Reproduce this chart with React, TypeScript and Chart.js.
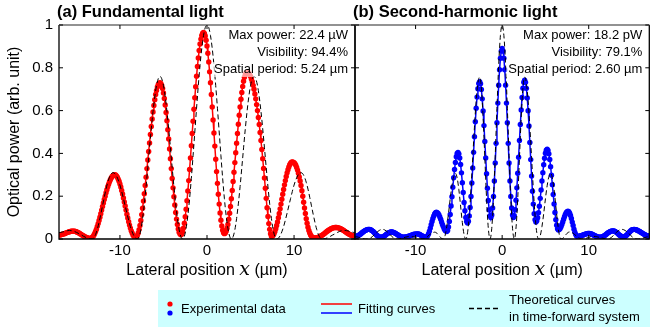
import React, { useEffect, useRef } from "react";
import { Chart, registerables } from "chart.js";

Chart.register(...registerables);

// ---------- data ----------
const X_MIN = -17;
const X_MAX = 17;
const X_TICKS = [-10, 0, 10];
const Y_TICKS = [0, 0.2, 0.4, 0.6, 0.8, 1];

// (a) Fundamental light – experimental data (start -17 µm, step 0.1 µm)
const FUND_EXP_START = -17;
const FUND_EXP_STEP = 0.1;
const FUND_EXP = [
  0.019, 0.019, 0.02, 0.021, 0.022, 0.023, 0.025, 0.026, 0.028, 0.03, 0.031, 0.033, 0.034, 0.035, 0.036, 0.037, 0.037,
  0.037, 0.036, 0.035, 0.034, 0.032, 0.03, 0.028, 0.025, 0.023, 0.02, 0.017, 0.015, 0.012, 0.01, 0.008, 0.006, 0.005, 0.004, 0.003, 0.003,
  0.004, 0.007, 0.011, 0.018, 0.026, 0.035, 0.046, 0.059, 0.072, 0.087, 0.102, 0.118, 0.135, 0.152, 0.168, 0.185, 0.2, 0.216, 0.23, 0.244, 0.256, 0.268, 0.277, 0.285, 0.292, 0.296, 0.299, 0.3,
  0.299, 0.295, 0.289, 0.28, 0.27, 0.257, 0.243, 0.227, 0.21, 0.192, 0.173, 0.154, 0.135, 0.116, 0.098, 0.081, 0.065, 0.051, 0.038, 0.028, 0.019, 0.013, 0.009, 0.008,
  0.01, 0.017, 0.028, 0.044, 0.063, 0.087, 0.114, 0.144, 0.177, 0.212, 0.25, 0.289, 0.329, 0.369, 0.409, 0.449, 0.488, 0.526, 0.561, 0.594, 0.624, 0.651, 0.675, 0.694, 0.71, 0.721, 0.728, 0.73,
  0.727, 0.718, 0.703, 0.682, 0.657, 0.626, 0.591, 0.553, 0.511, 0.467, 0.421, 0.375, 0.329, 0.283, 0.239, 0.198, 0.159, 0.124, 0.093, 0.068, 0.047, 0.032, 0.023, 0.02,
  0.023, 0.034, 0.051, 0.074, 0.104, 0.139, 0.179, 0.224, 0.273, 0.325, 0.379, 0.436, 0.493, 0.55, 0.606, 0.66, 0.712, 0.761, 0.806, 0.846, 0.881, 0.911, 0.934, 0.951, 0.962, 0.965,
  0.961, 0.949, 0.929, 0.902, 0.868, 0.827, 0.781, 0.73, 0.675, 0.617, 0.556, 0.495, 0.434, 0.373, 0.315, 0.26, 0.209, 0.163, 0.122, 0.088, 0.061, 0.041, 0.029, 0.025,
  0.028, 0.036, 0.05, 0.068, 0.092, 0.12, 0.152, 0.188, 0.227, 0.269, 0.312, 0.357, 0.403, 0.448, 0.493, 0.536, 0.578, 0.617, 0.653, 0.685, 0.713, 0.737, 0.756, 0.769, 0.777, 0.78,
  0.779, 0.775, 0.768, 0.76, 0.748, 0.735, 0.718, 0.7, 0.678, 0.655, 0.628, 0.6, 0.568, 0.535, 0.498, 0.46, 0.418, 0.375, 0.33, 0.285, 0.237, 0.19, 0.146, 0.105, 0.072, 0.045, 0.025, 0.012,
  0.013, 0.018, 0.025, 0.035, 0.048, 0.063, 0.08, 0.099, 0.119, 0.141, 0.163, 0.186, 0.209, 0.231, 0.253, 0.273, 0.292, 0.309, 0.324, 0.337, 0.347, 0.354, 0.359, 0.36,
  0.359, 0.357, 0.352, 0.345, 0.334, 0.322, 0.307, 0.29, 0.271, 0.25, 0.226, 0.2, 0.172, 0.145, 0.119, 0.095, 0.074, 0.055, 0.04, 0.028, 0.019, 0.012, 0.008, 0.006, 0.005, 0.005,
  0.005, 0.006, 0.007, 0.008, 0.01, 0.012, 0.015, 0.017, 0.02, 0.023, 0.026, 0.03, 0.033, 0.036, 0.039, 0.042, 0.044, 0.047, 0.049, 0.051, 0.052, 0.053, 0.054, 0.054,
  0.054, 0.053, 0.052, 0.051, 0.049, 0.047, 0.045, 0.042, 0.04, 0.037, 0.034, 0.031, 0.028, 0.026, 0.023, 0.021, 0.019, 0.017, 0.016, 0.015, 0.014, 0.014,
];

// (a) theoretical curve in time-forward system (start -17 µm, step 0.2 µm)
const FUND_THEORY_START = -17;
const FUND_THEORY_STEP = 0.2;
const FUND_THEORY = [
  0.03, 0.031, 0.033, 0.035, 0.038, 0.039, 0.04,
  0.039, 0.038, 0.035, 0.031, 0.027, 0.022, 0.018, 0.013, 0.009, 0.005, 0.002, 0.001, 0.0,
  0.005, 0.021, 0.045, 0.078, 0.115, 0.155, 0.195, 0.233, 0.265, 0.289, 0.305, 0.31,
  0.306, 0.295, 0.276, 0.252, 0.222, 0.189, 0.155, 0.121, 0.088, 0.058, 0.034, 0.015, 0.004, 0.0,
  0.011, 0.043, 0.096, 0.164, 0.245, 0.334, 0.426, 0.515, 0.596, 0.664, 0.717, 0.749, 0.76,
  0.749, 0.717, 0.664, 0.596, 0.515, 0.426, 0.334, 0.245, 0.164, 0.096, 0.043, 0.011, 0.0,
  0.013, 0.05, 0.109, 0.188, 0.283, 0.389, 0.5, 0.611, 0.717, 0.812, 0.891, 0.951, 0.988, 1.0,
  0.988, 0.951, 0.891, 0.812, 0.717, 0.611, 0.5, 0.389, 0.283, 0.188, 0.109, 0.05, 0.013, 0.0,
  0.011, 0.043, 0.096, 0.164, 0.245, 0.334, 0.426, 0.515, 0.596, 0.664, 0.717, 0.749, 0.76,
  0.749, 0.717, 0.664, 0.596, 0.515, 0.426, 0.334, 0.245, 0.164, 0.096, 0.043, 0.011, 0.0,
  0.004, 0.015, 0.034, 0.058, 0.088, 0.121, 0.155, 0.189, 0.222, 0.252, 0.276, 0.295, 0.306, 0.31,
  0.305, 0.289, 0.265, 0.233, 0.195, 0.155, 0.115, 0.078, 0.045, 0.021, 0.005, 0.0,
  0.001, 0.002, 0.005, 0.009, 0.013, 0.018, 0.022, 0.027, 0.031, 0.035, 0.038, 0.039, 0.04,
  0.039, 0.038, 0.035, 0.033, 0.031, 0.03,
];

// (b) Second-harmonic light – experimental data (start -17 µm, step 0.1 µm)
const SH_EXP_START = -17;
const SH_EXP_STEP = 0.1;
const SH_EXP = [
  0.012, 0.012, 0.013, 0.015, 0.017, 0.019, 0.022, 0.025, 0.029, 0.032, 0.035, 0.038, 0.04, 0.042, 0.044, 0.045, 0.045,
  0.045, 0.043, 0.041, 0.038, 0.035, 0.031, 0.027, 0.022, 0.018, 0.015, 0.012, 0.01, 0.008, 0.008,
  0.008, 0.01, 0.012, 0.014, 0.017, 0.021, 0.024, 0.027, 0.029, 0.031, 0.033, 0.033,
  0.033, 0.032, 0.03, 0.028, 0.026, 0.023, 0.021, 0.018, 0.015, 0.013, 0.011, 0.009, 0.008, 0.008,
  0.008, 0.009, 0.009, 0.01, 0.012, 0.013, 0.014, 0.016, 0.018, 0.019, 0.02, 0.022, 0.023, 0.023, 0.024, 0.024,
  0.024, 0.022, 0.021, 0.018, 0.016, 0.014, 0.011, 0.01, 0.008, 0.008,
  0.01, 0.016, 0.025, 0.037, 0.051, 0.067, 0.082, 0.096, 0.108, 0.117, 0.123, 0.125,
  0.123, 0.119, 0.112, 0.103, 0.092, 0.08, 0.068, 0.058, 0.048, 0.041, 0.037, 0.035,
  0.04, 0.056, 0.082, 0.115, 0.154, 0.198, 0.242, 0.286, 0.325, 0.358, 0.384, 0.4, 0.405,
  0.398, 0.379, 0.348, 0.309, 0.263, 0.217, 0.171, 0.132, 0.101, 0.082, 0.075,
  0.083, 0.108, 0.147, 0.199, 0.262, 0.332, 0.405, 0.478, 0.548, 0.611, 0.663, 0.702, 0.727, 0.735,
  0.726, 0.699, 0.655, 0.598, 0.53, 0.456, 0.379, 0.305, 0.237, 0.18, 0.136, 0.109, 0.1,
  0.112, 0.145, 0.199, 0.271, 0.355, 0.447, 0.543, 0.635, 0.719, 0.791, 0.845, 0.878, 0.89,
  0.878, 0.845, 0.791, 0.719, 0.635, 0.543, 0.447, 0.355, 0.271, 0.199, 0.145, 0.112, 0.1,
  0.109, 0.137, 0.181, 0.239, 0.307, 0.382, 0.46, 0.535, 0.603, 0.661, 0.705, 0.733, 0.742,
  0.732, 0.704, 0.659, 0.599, 0.528, 0.451, 0.371, 0.294, 0.223, 0.163, 0.118, 0.09, 0.08,
  0.085, 0.099, 0.123, 0.153, 0.19, 0.229, 0.271, 0.31, 0.347, 0.377, 0.401, 0.415, 0.42,
  0.414, 0.398, 0.372, 0.338, 0.298, 0.254, 0.208, 0.164, 0.124, 0.09, 0.064, 0.048, 0.042,
  0.044, 0.049, 0.057, 0.068, 0.08, 0.092, 0.104, 0.115, 0.123, 0.128, 0.13,
  0.128, 0.121, 0.11, 0.096, 0.079, 0.063, 0.046, 0.032, 0.021, 0.014, 0.012,
  0.012, 0.013, 0.014, 0.015, 0.017, 0.018, 0.02, 0.021, 0.023, 0.024, 0.025, 0.026, 0.026,
  0.026, 0.025, 0.024, 0.022, 0.02, 0.018, 0.016, 0.014, 0.012, 0.01, 0.009, 0.008, 0.008,
  0.008, 0.009, 0.011, 0.013, 0.016, 0.018, 0.021, 0.025, 0.028, 0.031, 0.033, 0.035, 0.037, 0.038, 0.038,
  0.038, 0.036, 0.034, 0.031, 0.028, 0.024, 0.02, 0.017, 0.014, 0.012, 0.01, 0.01,
  0.011, 0.012, 0.015, 0.019, 0.023, 0.028, 0.032, 0.036, 0.04, 0.043, 0.044, 0.045,
  0.045, 0.044, 0.043, 0.041, 0.039, 0.037, 0.035, 0.032, 0.03, 0.027, 0.024, 0.022, 0.02, 0.018, 0.016, 0.015, 0.014, 0.014,
];

// (b) theoretical curve in time-forward system (start -17 µm, step 0.2 µm)
const SH_THEORY_START = -17;
const SH_THEORY_STEP = 0.2;
const SH_THEORY = [
  0.01, 0.01, 0.008, 0.006, 0.004, 0.002, 0.0, 0.0,
  0.001, 0.005, 0.011, 0.019, 0.026, 0.034, 0.04, 0.044, 0.045,
  0.043, 0.038, 0.031, 0.023, 0.014, 0.007, 0.002, 0.0,
  0.0, 0.002, 0.004, 0.006, 0.008, 0.01, 0.012, 0.012,
  0.011, 0.01, 0.007, 0.005, 0.002, 0.001, 0.0,
  0.002, 0.006, 0.012, 0.02, 0.026, 0.03, 0.032,
  0.029, 0.021, 0.011, 0.003, 0.0,
  0.015, 0.058, 0.119, 0.188, 0.249, 0.292, 0.307,
  0.286, 0.23, 0.154, 0.077, 0.021, 0.0,
  0.029, 0.111, 0.234, 0.379, 0.523, 0.646, 0.728, 0.757,
  0.706, 0.568, 0.379, 0.189, 0.051, 0.0,
  0.05, 0.188, 0.389, 0.611, 0.812, 0.951, 1.0,
  0.951, 0.812, 0.611, 0.389, 0.188, 0.05, 0.0,
  0.051, 0.189, 0.379, 0.568, 0.706, 0.757,
  0.728, 0.646, 0.523, 0.379, 0.234, 0.111, 0.029, 0.0,
  0.015, 0.058, 0.119, 0.188, 0.249, 0.292, 0.307,
  0.286, 0.23, 0.154, 0.077, 0.021, 0.0,
  0.003, 0.011, 0.022, 0.03, 0.033,
  0.031, 0.027, 0.02, 0.013, 0.006, 0.002, 0.0,
  0.001, 0.002, 0.005, 0.007, 0.01, 0.011, 0.012,
  0.012, 0.01, 0.008, 0.006, 0.004, 0.002, 0.0, 0.0,
  0.002, 0.007, 0.014, 0.023, 0.031, 0.038, 0.043, 0.045,
  0.044, 0.04, 0.034, 0.026, 0.019, 0.011, 0.005, 0.001, 0.0,
  0.0, 0.002, 0.004, 0.006, 0.008, 0.01, 0.01,
];

const FUND_TITLE = "(a) Fundamental light";
const SH_TITLE = "(b) Second-harmonic light";
const FUND_NOTES = ["Max power: 22.4 µW", "Visibility: 94.4%", "Spatial period: 5.24 µm"];
const SH_NOTES = ["Max power: 18.2 pW", "Visibility: 79.1%", "Spatial period: 2.60 µm"];
const Y_TITLE = "Optical power (arb. unit)";
const X_TITLE_A = "Lateral position ";
const X_TITLE_VAR = "x";
const X_TITLE_B = " (µm)";

// ---------- helpers ----------
const FONT = "'Liberation Sans', Arial, Helvetica, sans-serif";
const W = 652;
const H = 290;

function toPoints(start: number, step: number, values: number[]) {
  return values.map((y, i) => ({ x: Math.round((start + i * step) * 1000) / 1000, y }));
}

const framePlugin = {
  id: "frame",
  afterDatasetsDraw(chart: any, _args: any, opts: any) {
    const { ctx, chartArea: a, scales } = chart;
    ctx.save();
    // annotation text with translucent background
    ctx.font = `13px ${FONT}`;
    ctx.textAlign = "right";
    ctx.textBaseline = "alphabetic";
    (opts.notes as string[]).forEach((t: string, i: number) => {
      const w = ctx.measureText(t).width;
      const xr = a.right - 7;
      const yb = a.top + 14 + i * 17;
      ctx.fillStyle = "rgba(255,255,255,0.6)";
      ctx.fillRect(xr - w - 2, yb - 11, w + 4, 15);
      ctx.fillStyle = "#000";
      ctx.fillText(t, xr, yb);
    });
    // frame
    ctx.strokeStyle = "#000";
    ctx.lineWidth = 1.3;
    ctx.beginPath();
    ctx.moveTo(a.left, a.top);
    ctx.lineTo(a.left, a.bottom);
    ctx.lineTo(a.right, a.bottom);
    ctx.lineTo(a.right, a.top);
    ctx.stroke();
    ctx.strokeStyle = "#6e6e6e";
    ctx.lineWidth = 1.6;
    ctx.beginPath();
    ctx.moveTo(a.left, a.top);
    ctx.lineTo(a.right, a.top);
    ctx.stroke();
    // inward ticks
    ctx.strokeStyle = "#000";
    ctx.lineWidth = 1;
    ctx.beginPath();
    X_TICKS.forEach((v) => {
      const px = scales.x.getPixelForValue(v);
      ctx.moveTo(px, a.bottom);
      ctx.lineTo(px, a.bottom - 4);
      ctx.moveTo(px, a.top);
      ctx.lineTo(px, a.top + 4);
    });
    Y_TICKS.forEach((v) => {
      const py = scales.y.getPixelForValue(v);
      ctx.moveTo(a.left, py);
      ctx.lineTo(a.left + 4, py);
      ctx.moveTo(a.right, py);
      ctx.lineTo(a.right - 4, py);
    });
    ctx.stroke();

    // panel title
    ctx.fillStyle = "#000";
    ctx.font = `bold 16.5px ${FONT}`;
    ctx.textAlign = "left";
    ctx.textBaseline = "alphabetic";
    ctx.fillText(opts.title, opts.titleX, 17);

    // x axis title
    const cx = (a.left + a.right) / 2;
    ctx.font = `16px ${FONT}`;
    const w1 = ctx.measureText(X_TITLE_A).width;
    const w3 = ctx.measureText(X_TITLE_B).width;
    ctx.font = `italic 19px 'DejaVu Serif', 'Liberation Serif', serif`;
    const w2 = ctx.measureText(X_TITLE_VAR).width;
    const x0 = cx - (w1 + w2 + w3) / 2;
    const yb = 275;
    ctx.font = `16px ${FONT}`;
    ctx.fillText(X_TITLE_A, x0, yb);
    ctx.font = `italic 19px 'DejaVu Serif', 'Liberation Serif', serif`;
    ctx.fillText(X_TITLE_VAR, x0 + w1, yb);
    ctx.font = `16px ${FONT}`;
    ctx.fillText(X_TITLE_B, x0 + w1 + w2, yb);

    // y axis title
    if (opts.yTitle) {
      ctx.save();
      ctx.translate(15, (a.top + a.bottom) / 2);
      ctx.rotate(-Math.PI / 2);
      ctx.textAlign = "center";
      ctx.textBaseline = "middle";
      ctx.font = `16px ${FONT}`;
      ctx.fillText(opts.yTitle, 0, 0);
      ctx.restore();
    }
    ctx.restore();
  },
};

type PanelCfg = {
  title: string;
  titleX: number;
  notes: string[];
  yTitle: string | null;
  padLeft: number;
  padRight: number;
  yWidth: number;
  showYLabels: boolean;
  color: string;
  exp: { x: number; y: number }[];
  theory: { x: number; y: number }[];
};

function buildChart(canvas: HTMLCanvasElement, cfg: PanelCfg) {
  return new Chart(canvas, {
    type: "scatter",
    data: {
      datasets: [
        {
          label: "theory",
          data: cfg.theory,
          showLine: true,
          borderColor: "#000",
          borderWidth: 1,
          borderDash: [5, 3],
          pointRadius: 0,
          pointHoverRadius: 0,
          cubicInterpolationMode: "monotone",
        } as any,
        {
          label: "experiment",
          data: cfg.exp,
          showLine: true,
          borderColor: cfg.color,
          borderWidth: 1.5,
          pointRadius: 2.7,
          pointHoverRadius: 0,
          pointBorderWidth: 0,
          pointBackgroundColor: cfg.color,
        } as any,
      ],
    },
    options: {
      animation: false,
      responsive: false,
      devicePixelRatio: 1,
      events: [],
      layout: { padding: { left: cfg.padLeft, right: cfg.padRight, top: 25, bottom: 21 } },
      plugins: {
        legend: { display: false },
        tooltip: { enabled: false },
        frame: {
          notes: cfg.notes,
          title: cfg.title,
          titleX: cfg.titleX,
          yTitle: cfg.yTitle,
        },
      } as any,
      scales: {
        x: {
          type: "linear",
          min: X_MIN,
          max: X_MAX,
          grid: { display: false, drawTicks: false },
          border: { display: false },
          afterBuildTicks: (s: any) => {
            s.ticks = X_TICKS.map((v) => ({ value: v }));
          },
          afterFit: (s: any) => {
            s.height = 30;
          },
          ticks: {
            color: "#000",
            padding: 3,
            maxRotation: 0,
            font: { family: FONT, size: 15 },
            callback: (v: any) => String(v),
          },
        },
        y: {
          type: "linear",
          min: 0,
          max: 1,
          grid: { display: false, drawTicks: false },
          border: { display: false },
          afterBuildTicks: (s: any) => {
            s.ticks = Y_TICKS.map((v) => ({ value: v }));
          },
          afterFit: (s: any) => {
            s.width = cfg.yWidth;
          },
          ticks: {
            display: cfg.showYLabels,
            color: "#000",
            padding: 6,
            font: { family: FONT, size: 15 },
            callback: (v: any) => String(v),
          },
        },
      },
    } as any,
    plugins: [framePlugin as any],
  });
}

export default function App() {
  const refA = useRef<HTMLCanvasElement | null>(null);
  const refB = useRef<HTMLCanvasElement | null>(null);

  useEffect(() => {
    const a = buildChart(refA.current!, {
      title: FUND_TITLE,
      titleX: 57,
      notes: FUND_NOTES,
      yTitle: Y_TITLE,
      padLeft: 0,
      padRight: W - 355,
      yWidth: 59,
      showYLabels: true,
      color: "#ff0000",
      exp: toPoints(FUND_EXP_START, FUND_EXP_STEP, FUND_EXP),
      theory: toPoints(FUND_THEORY_START, FUND_THEORY_STEP, FUND_THEORY),
    });
    const b = buildChart(refB.current!, {
      title: SH_TITLE,
      titleX: 353,
      notes: SH_NOTES,
      yTitle: null,
      padLeft: 300,
      padRight: 2,
      yWidth: 55,
      showYLabels: false,
      color: "#0000ff",
      exp: toPoints(SH_EXP_START, SH_EXP_STEP, SH_EXP),
      theory: toPoints(SH_THEORY_START, SH_THEORY_STEP, SH_THEORY),
    });
    return () => {
      a.destroy();
      b.destroy();
    };
  }, []);

  const textStyle: React.CSSProperties = {
    position: "absolute",
    font: `13px ${FONT}`,
    lineHeight: "15px",
    color: "#000",
    whiteSpace: "nowrap",
  };

  return (
    <div style={{ position: "fixed", left: 0, top: 0, width: W, height: 329, background: "#fff", overflow: "hidden" }}>
      <canvas ref={refA} width={W} height={H} style={{ position: "absolute", left: 0, top: 0, width: W, height: H }} />
      <canvas ref={refB} width={W} height={H} style={{ position: "absolute", left: 0, top: 0, width: W, height: H }} />
      <div style={{ position: "absolute", left: 158, top: 290, width: 492, height: 37, background: "#ccffff" }} />
      <svg width={W} height={329} style={{ position: "absolute", left: 0, top: 0 }}>
        <circle cx={170} cy={304} r={2.6} fill="#ff0000" />
        <circle cx={170} cy={313} r={2.6} fill="#0000ff" />
        <line x1={321} y1={304} x2={352} y2={304} stroke="#ff0000" strokeWidth={1.5} />
        <line x1={321} y1={313} x2={352} y2={313} stroke="#0000ff" strokeWidth={1.5} />
        <line x1={469} y1={308.5} x2={501} y2={308.5} stroke="#000" strokeWidth={1.3} strokeDasharray="5 3" />
      </svg>
      <div style={{ ...textStyle, left: 181, top: 300.5 }}>Experimental data</div>
      <div style={{ ...textStyle, left: 358, top: 300.5 }}>Fitting curves</div>
      <div style={{ ...textStyle, left: 509, top: 292 }}>Theoretical curves</div>
      <div style={{ ...textStyle, left: 509, top: 308.5 }}>in time-forward system</div>
    </div>
  );
}
